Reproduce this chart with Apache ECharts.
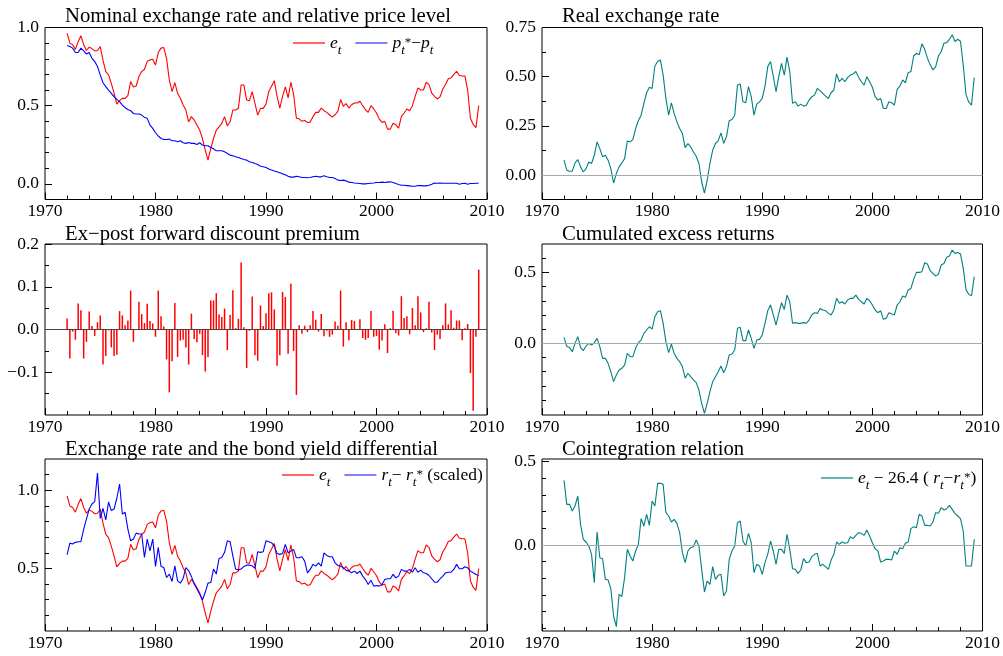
<!DOCTYPE html>
<html><head><meta charset="utf-8">
<script src="https://cdn.jsdelivr.net/npm/echarts@6/dist/echarts.min.js"></script>
<style>html,body{margin:0;padding:0;background:#fff}#c{width:1003px;height:656px}</style>
</head><body><div id="c"></div>
<script>
// quarterly observations, first one in 1972Q1
const startYear = 1972;

const eRate = [0.964,0.90,0.89,0.86,0.91,0.947,0.89,0.853,0.874,0.865,
0.85,0.853,0.878,0.79,0.718,0.697,0.643,0.58,0.51,0.532,
0.547,0.547,0.564,0.654,0.62,0.626,0.686,0.718,0.733,0.782,
0.793,0.797,0.76,0.84,0.868,0.872,0.803,0.665,0.59,0.647,
0.579,0.547,0.504,0.472,0.397,0.43,0.408,0.376,0.344,0.29,
0.216,0.152,0.226,0.29,0.344,0.365,0.387,0.43,0.37,0.397,
0.472,0.472,0.483,0.632,0.632,0.536,0.532,0.59,0.515,0.44,
0.483,0.483,0.51,0.59,0.624,0.66,0.56,0.485,0.56,0.62,
0.55,0.65,0.57,0.42,0.416,0.40,0.405,0.393,0.395,0.43,
0.457,0.457,0.485,0.468,0.457,0.442,0.427,0.442,0.464,0.539,
0.496,0.513,0.485,0.506,0.517,0.517,0.528,0.50,0.474,0.457,
0.50,0.479,0.453,0.414,0.393,0.40,0.35,0.35,0.388,0.378,
0.356,0.43,0.453,0.479,0.468,0.50,0.56,0.614,0.60,0.60,
0.65,0.635,0.58,0.56,0.543,0.556,0.607,0.635,0.672,0.678,
0.70,0.72,0.693,0.69,0.69,0.60,0.42,0.38,0.36,0.50];

const relPrice = [0.885,0.878,0.868,0.84,0.84,0.868,0.85,0.831,0.84,0.803,
0.782,0.75,0.697,0.647,0.622,0.60,0.579,0.558,0.54,0.526,
0.504,0.487,0.476,0.468,0.45,0.447,0.447,0.44,0.425,0.419,
0.376,0.355,0.327,0.306,0.29,0.284,0.284,0.286,0.276,0.276,
0.269,0.276,0.263,0.259,0.265,0.259,0.259,0.252,0.263,0.248,
0.244,0.244,0.233,0.224,0.212,0.212,0.212,0.205,0.194,0.184,
0.18,0.173,0.169,0.162,0.156,0.152,0.141,0.137,0.13,0.124,
0.113,0.109,0.105,0.095,0.088,0.082,0.077,0.071,0.064,0.058,
0.049,0.043,0.043,0.049,0.045,0.041,0.041,0.039,0.041,0.045,
0.049,0.045,0.045,0.052,0.045,0.041,0.041,0.034,0.024,0.021,
0.024,0.019,0.011,0.009,0.006,0.004,0.002,0.0,0.0,0.002,
0.004,0.006,0.009,0.009,0.011,0.009,0.011,0.013,0.009,0.002,
-0.004,-0.009,-0.009,-0.011,-0.013,-0.015,-0.015,-0.011,-0.011,-0.013,
-0.013,-0.009,-0.002,0.006,0.004,0.006,0.004,0.004,0.004,0.004,
0.004,0.004,-0.002,0.002,0.004,-0.002,0.002,0.002,0.004,0.004];

const realRate = [0.075,0.024,0.019,0.019,0.061,0.078,0.041,0.015,0.032,0.066,
0.058,0.10,0.168,0.134,0.092,0.10,0.075,0.032,-0.041,0.007,
0.041,0.061,0.083,0.173,0.168,0.18,0.236,0.276,0.304,0.364,
0.418,0.446,0.44,0.554,0.577,0.585,0.508,0.389,0.304,0.367,
0.313,0.27,0.236,0.211,0.139,0.16,0.143,0.117,0.095,0.058,
-0.036,-0.092,-0.027,0.058,0.126,0.16,0.173,0.214,0.16,0.194,
0.276,0.282,0.304,0.457,0.463,0.372,0.367,0.449,0.398,0.304,
0.36,0.372,0.389,0.452,0.551,0.577,0.503,0.423,0.50,0.568,
0.508,0.599,0.526,0.364,0.372,0.35,0.36,0.35,0.355,0.381,
0.398,0.406,0.44,0.429,0.415,0.401,0.389,0.418,0.432,0.514,
0.474,0.491,0.474,0.495,0.508,0.514,0.526,0.497,0.474,0.457,
0.50,0.474,0.446,0.398,0.381,0.389,0.338,0.338,0.372,0.367,
0.355,0.435,0.452,0.483,0.469,0.52,0.526,0.605,0.619,0.611,
0.667,0.639,0.594,0.56,0.534,0.551,0.605,0.628,0.67,0.673,
0.69,0.713,0.679,0.69,0.68,0.56,0.41,0.37,0.355,0.495];

const premium = [0.026,-0.068,-0.005,-0.024,0.061,0.045,-0.068,-0.029,0.042,0.008,
-0.015,0.017,0.033,-0.082,-0.062,-0.002,-0.042,-0.062,-0.059,0.043,
0.033,0.010,0.021,0.091,-0.029,-0.001,0.065,0.036,0.015,0.060,
0.020,0.014,-0.017,0.091,0.031,0.007,-0.070,-0.147,-0.074,0.062,
-0.064,-0.026,-0.024,-0.042,-0.082,0.037,-0.022,-0.030,-0.010,-0.060,
-0.098,-0.065,0.068,0.068,0.085,0.035,0.029,0.049,-0.048,0.034,
0.092,0.003,0.025,0.157,0.005,-0.090,-0.003,0.077,-0.060,-0.073,
0.056,0.008,0.038,0.085,0.087,0.047,-0.085,-0.060,0.088,0.076,
-0.057,0.107,-0.050,-0.153,0.010,-0.010,0.009,-0.006,0.010,0.043,
0.023,-0.005,0.036,-0.016,-0.003,-0.017,-0.012,0.019,0.009,0.091,
-0.040,0.017,-0.025,0.022,0.020,0.001,0.024,-0.020,-0.024,-0.020,
0.043,-0.017,-0.015,-0.047,-0.026,0.012,-0.055,0.003,0.044,-0.009,
-0.014,0.078,0.027,0.031,-0.011,0.050,0.010,0.078,0.040,-0.006,
0.003,0.065,-0.007,-0.048,-0.012,-0.022,0.010,0.061,0.012,0.045,
0.004,0.021,0.021,-0.025,0.003,0.013,-0.102,-0.190,-0.017,0.140];

const cumExcess = [0.042,-0.023,-0.03,-0.059,0.0,0.047,-0.028,-0.052,-0.019,0.0,
-0.012,0.005,0.035,-0.023,-0.106,-0.106,-0.141,-0.2,-0.27,-0.223,
-0.188,-0.176,-0.153,-0.07,-0.094,-0.094,-0.035,0.005,0.023,0.07,
0.094,0.117,0.10,0.188,0.223,0.23,0.141,0.012,-0.066,-0.005,
-0.07,-0.106,-0.129,-0.164,-0.246,-0.211,-0.235,-0.258,-0.277,-0.329,
-0.423,-0.493,-0.423,-0.34,-0.27,-0.235,-0.2,-0.16,-0.207,-0.164,
-0.082,-0.075,-0.047,0.106,0.113,0.019,0.019,0.094,0.035,-0.035,
0.023,0.028,0.059,0.141,0.23,0.27,0.20,0.129,0.211,0.286,
0.239,0.34,0.293,0.141,0.146,0.141,0.141,0.146,0.141,0.164,
0.20,0.216,0.211,0.246,0.235,0.23,0.211,0.20,0.235,0.317,
0.282,0.293,0.277,0.305,0.317,0.317,0.34,0.31,0.293,0.277,
0.317,0.30,0.27,0.235,0.216,0.23,0.169,0.176,0.216,0.207,
0.20,0.27,0.293,0.333,0.324,0.376,0.387,0.451,0.50,0.50,
0.505,0.568,0.559,0.512,0.493,0.474,0.488,0.552,0.563,0.606,
0.615,0.657,0.634,0.64,0.63,0.53,0.38,0.345,0.335,0.47];

const bondDiff = [0.588,0.662,0.656,0.667,0.671,0.671,0.752,0.816,0.88,0.912,
0.927,1.111,0.82,0.885,0.81,0.925,0.87,0.88,0.949,1.04,
0.848,0.859,0.752,0.677,0.688,0.726,0.72,0.72,0.57,0.688,
0.613,0.688,0.513,0.635,0.513,0.506,0.442,0.464,0.417,0.517,
0.421,0.406,0.436,0.506,0.485,0.449,0.40,0.368,0.335,0.30,
0.346,0.406,0.41,0.496,0.464,0.564,0.57,0.603,0.677,0.671,
0.581,0.496,0.491,0.496,0.513,0.521,0.521,0.517,0.50,0.607,
0.603,0.607,0.677,0.671,0.665,0.643,0.596,0.59,0.596,0.654,
0.60,0.611,0.622,0.568,0.568,0.575,0.547,0.472,0.494,0.526,
0.515,0.536,0.515,0.60,0.583,0.575,0.575,0.536,0.519,0.515,
0.504,0.489,0.483,0.472,0.483,0.468,0.483,0.451,0.429,0.397,
0.425,0.387,0.391,0.387,0.397,0.429,0.434,0.434,0.462,0.44,
0.451,0.494,0.483,0.483,0.494,0.476,0.504,0.476,0.489,0.472,
0.468,0.455,0.434,0.412,0.412,0.434,0.451,0.472,0.476,0.476,
0.494,0.526,0.498,0.498,0.511,0.504,0.483,0.472,0.462,0.455];

const coint = [0.388,0.244,0.244,0.204,0.234,0.294,0.124,0.034,0.018,-0.006,
-0.056,-0.226,0.078,-0.076,-0.082,-0.206,-0.21,-0.262,-0.426,-0.49,
-0.296,-0.31,-0.196,-0.026,-0.066,-0.096,-0.036,0.004,0.158,0.114,
0.184,0.118,0.264,0.234,0.37,0.37,0.364,0.194,0.174,0.138,
0.154,0.13,0.074,-0.046,-0.106,-0.036,-0.016,-0.01,0.03,-0.006,
-0.146,-0.282,-0.216,-0.236,-0.13,-0.206,-0.182,-0.176,-0.306,-0.276,
-0.086,-0.036,-0.006,0.134,0.144,0.024,-0.006,0.07,0.014,-0.166,
-0.116,-0.126,-0.176,-0.106,-0.056,0.024,-0.036,-0.116,-0.026,-0.026,
-0.05,0.064,-0.026,-0.142,-0.146,-0.17,-0.15,-0.082,-0.106,-0.102,
-0.07,-0.056,-0.05,-0.126,-0.116,-0.13,-0.146,-0.09,-0.056,0.018,
0.004,0.018,0.01,0.014,0.05,0.038,0.058,0.074,0.07,0.058,
0.09,0.054,0.014,-0.022,-0.036,-0.102,-0.096,-0.086,-0.086,-0.09,
-0.036,-0.056,-0.016,-0.022,0.01,0.018,0.098,0.11,0.104,0.184,
0.174,0.118,0.118,0.114,0.138,0.194,0.19,0.224,0.21,0.218,
0.238,0.214,0.19,0.174,0.158,0.084,-0.126,-0.126,-0.126,0.034];

// tick labels (major) and minor tick values per panel
const yMajor = [[0,0.5,1.0],[0,0.25,0.5,0.75],[-0.1,0,0.1,0.2],[0,0.5],[0.5,1.0],[0,0.5]];
const yMinor = [[0.1,0.2,0.3,0.4,0.6,0.7,0.8,0.9],[-0.125,0.125,0.375,0.625],[-0.15,-0.05,0.05,0.15],
  [-0.4,-0.3,-0.2,-0.1,0.1,0.2,0.3,0.4,0.6],[0.2,0.3,0.4,0.6,0.7,0.8,0.9,1.1],[-0.5,-0.4,-0.3,-0.2,-0.1,0.1,0.2,0.3,0.4]];
const titles = ['Nominal exchange rate and relative price level','Real exchange rate',
  'Ex\u2212post forward discount premium','Cumulated excess returns',
  'Exchange rate and the bond yield differential','Cointegration relation'];

const SERIF = '"Liberation Serif","Times New Roman",serif';
const RED = '#ff0000', BLUE = '#0000ff', TEAL = '#008080';
const dates = eRate.map((_, i) => startYear + i / 4);
const pair = arr => arr.map((v, i) => [dates[i], v]);

const grids = [
  {left:45, top:27.5, width:442, height:172},
  {left:542, top:27.5, width:441, height:172},
  {left:45, top:244, width:442, height:171},
  {left:542, top:244, width:441, height:171},
  {left:45, top:459, width:442, height:172},
  {left:542, top:459, width:441, height:172}
];
const yRange = [[-0.1,1.0],[-0.125,0.75],[-0.2,0.2],[-0.505,0.7],[0.1,1.2],[-0.516,0.516]];
const yDec = [1,2,1,1,1,1];
const titleTop = [6,6,224,224,439,439];
const fmt = (v,d) => v.toFixed(d).replace('-', '\u2212');

const xAxis = grids.map((g,i) => ({
  gridIndex:i, type:'value', min:1970, max:2010, interval:10, position:'bottom',
  axisLine:{show:false, onZero:false}, splitLine:{show:false},
  axisTick:{show:true, inside:true, length:7, lineStyle:{color:'#000'}},
  minorTick:{show:true, splitNumber:5, length:4, lineStyle:{color:'#000'}},
  axisLabel:{color:'#000', fontFamily:SERIF, fontSize:17.5, margin:3, showMinLabel:true, showMaxLabel:true,
    formatter:v => String(Math.round(v))}
}));
const yAxis = [];
grids.forEach((g,i) => {
  yAxis.push({gridIndex:i, type:'value', position:'left', min:yRange[i][0], max:yRange[i][1],
    axisLine:{show:false, onZero:false}, splitLine:{show:false},
    axisTick:{show:true, inside:true, length:7, lineStyle:{color:'#000'}, customValues:yMajor[i]},
    axisLabel:{customValues:yMajor[i], color:'#000', fontFamily:SERIF, fontSize:17.5, margin:6,
      formatter:v => fmt(v, yDec[i])}});
  yAxis.push({gridIndex:i, type:'value', position:'left', min:yRange[i][0], max:yRange[i][1],
    axisLine:{show:false, onZero:false}, splitLine:{show:false}, axisLabel:{show:false},
    axisTick:{show:true, inside:true, length:4, lineStyle:{color:'#000'}, customValues:yMinor[i]}});
});

const zero = c => ({silent:true, symbol:['none','none'], label:{show:false},
  lineStyle:{color:c, width:1, type:'solid'}, data:[{yAxis:0}], animation:false});
const line = (name, k, arr, color, extra) => Object.assign({
  name, type:'line', xAxisIndex:k, yAxisIndex:2*k, data:pair(arr), symbol:'none', showSymbol:false,
  lineStyle:{color, width:1.1}, itemStyle:{color}, animation:false, z:3}, extra || {});

const rich = {
  i:{fontFamily:SERIF, fontStyle:'italic', fontSize:17.5, lineHeight:28, color:'#000'},
  n:{fontFamily:SERIF, fontSize:17.5, lineHeight:28, color:'#000'},
  s:{fontFamily:SERIF, fontStyle:'italic', fontSize:13, lineHeight:13, verticalAlign:'bottom', color:'#000'},
  u:{fontFamily:SERIF, fontSize:13, lineHeight:13, verticalAlign:'middle', color:'#000'}
};
const legendText = {
  e1:'{i|e}{s|t}',
  p1:'{i|p}{s|t}{u|*}{n|\u2212}{i|p}{s|t}',
  e5:'{i|e}{s|t}',
  r5:'{i|r}{s|t}{n|\u2212 }{i|r}{s|t}{u|*}{n| (scaled)}',
  c6:'{i|e}{s|t}{n| \u2212 26.4 ( }{i|r}{s|t}{n|\u2212}{i|r}{s|t}{u|*}{n|)}'
};
const legendBase = {orient:'horizontal', icon:'rect', itemWidth:32, itemHeight:1.2, itemGap:14, padding:0,
  selectedMode:false, formatter:n => legendText[n], textStyle:{fontFamily:SERIF, fontSize:17.5, color:'#000', rich}};

const option = {
  animation:false,
  backgroundColor:'#fff',
  title: titles.map((t,i) => ({text:t, left:grids[i].left+20, top:titleTop[i], padding:0,
    textStyle:{fontFamily:SERIF, fontSize:20.7, fontWeight:'normal', color:'#000'}})),
  grid: grids.map(g => Object.assign({show:true, borderColor:'#000', borderWidth:1, backgroundColor:'transparent'}, g)),
  xAxis, yAxis,
  legend:[
    Object.assign({data:['e1','p1'], left:293, top:34}, legendBase),
    Object.assign({data:['e5','r5'], left:282, top:466}, legendBase),
    Object.assign({data:['c6'], left:821, top:469}, legendBase)
  ],
  series:[
    line('e1', 0, eRate, RED),
    line('p1', 0, relPrice, BLUE),
    line('real', 1, realRate, TEAL, {markLine:zero('#a8a8a8')}),
    {name:'prem', type:'bar', xAxisIndex:2, yAxisIndex:4, data:pair(premium), barWidth:1.5,
      itemStyle:{color:RED}, animation:false, markLine:zero('#444')},
    line('cum', 3, cumExcess, TEAL, {markLine:zero('#a8a8a8')}),
    line('e5', 4, eRate, RED),
    line('r5', 4, bondDiff, BLUE),
    line('c6', 5, coint, TEAL, {markLine:zero('#a8a8a8')})
  ]
};
const chart = echarts.init(document.getElementById('c'));
chart.setOption(option);
</script></body></html>
